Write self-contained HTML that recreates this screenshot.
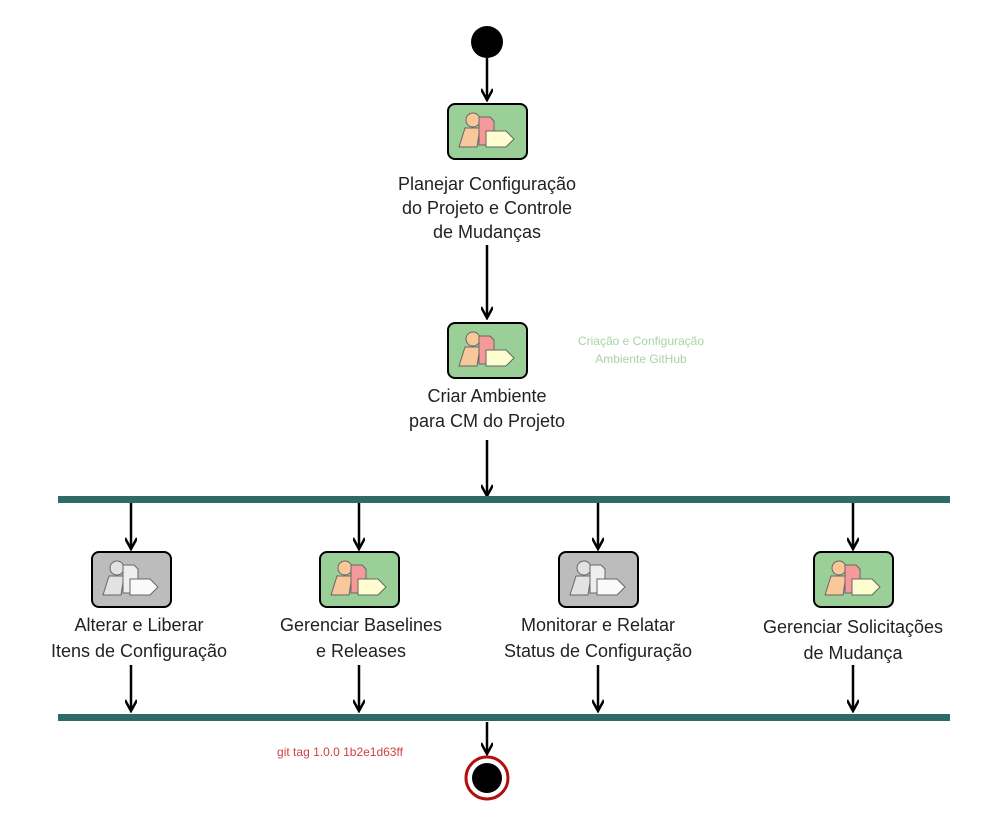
<!DOCTYPE html>
<html><head><meta charset="utf-8"><style>
html,body{margin:0;padding:0;background:#fff}
svg text{font-family:"Liberation Sans",sans-serif}
</style></head><body>
<svg width="1000" height="829" viewBox="0 0 1000 829" xmlns="http://www.w3.org/2000/svg">
<defs>
<marker id="ah" markerWidth="14" markerHeight="12" refX="12" refY="6" orient="auto" markerUnits="userSpaceOnUse">
<path d="M1,0 L12,6 L1,12" fill="none" stroke="#000" stroke-width="2.5"/>
</marker>
<g id="iconG">
<rect x="1" y="1" width="79" height="55" rx="7" fill="#9bcf98" stroke="#000" stroke-width="2"/>
<path d="M12,44 L18,25 L33,25 L30,44 Z" fill="#f9c89a" stroke="#666" stroke-width="1"/>
<circle cx="26" cy="17" r="7" fill="#f9c89a" stroke="#666" stroke-width="1"/>
<path d="M32,14 L43,14 L47,18 L47,42 L32,42 Z" fill="#f59a9a" stroke="#666" stroke-width="1"/>
<path d="M39,28 L59,28 L67,36 L59,44 L39,44 Z" fill="#fdfdd0" stroke="#666" stroke-width="1"/>
</g>
<g id="iconW">
<rect x="1" y="1" width="79" height="55" rx="7" fill="#bcbcbc" stroke="#000" stroke-width="2"/>
<path d="M12,44 L18,25 L33,25 L30,44 Z" fill="#e2e2e2" stroke="#666" stroke-width="1"/>
<circle cx="26" cy="17" r="7" fill="#e2e2e2" stroke="#666" stroke-width="1"/>
<path d="M32,14 L43,14 L47,18 L47,42 L32,42 Z" fill="#eeeeee" stroke="#666" stroke-width="1"/>
<path d="M39,28 L59,28 L67,36 L59,44 L39,44 Z" fill="#fafafa" stroke="#666" stroke-width="1"/>
</g>
</defs>
<g stroke="#000" stroke-width="2.5" fill="none" marker-end="url(#ah)">
<line x1="487" y1="58" x2="487" y2="100"/>
<line x1="487" y1="245" x2="487" y2="318"/>
<line x1="487" y1="440" x2="487" y2="496"/>
<line x1="131" y1="503" x2="131" y2="549"/>
<line x1="359" y1="503" x2="359" y2="549"/>
<line x1="598" y1="503" x2="598" y2="549"/>
<line x1="853" y1="503" x2="853" y2="549"/>
<line x1="131" y1="665" x2="131" y2="711"/>
<line x1="359" y1="665" x2="359" y2="711"/>
<line x1="598" y1="665" x2="598" y2="711"/>
<line x1="853" y1="665" x2="853" y2="711"/>
<line x1="487" y1="722" x2="487" y2="754"/>
</g>
<circle cx="487" cy="42" r="16" fill="#000"/>
<rect x="58" y="496" width="892" height="7" fill="#2f6b66"/>
<rect x="58" y="714" width="892" height="7" fill="#2f6b66"/>
<circle cx="487" cy="778" r="21" fill="#fff" stroke="#b01010" stroke-width="3"/>
<circle cx="487" cy="778" r="15" fill="#000"/>
<use href="#iconG" x="447" y="103"/>
<use href="#iconG" x="447" y="322"/>
<use href="#iconW" x="91" y="551"/>
<use href="#iconG" x="319" y="551"/>
<use href="#iconW" x="558" y="551"/>
<use href="#iconG" x="813" y="551"/>
<g font-size="18" fill="#222" text-anchor="middle">
<text x="487" y="190">Planejar Configuração</text>
<text x="487" y="214">do Projeto e Controle</text>
<text x="487" y="238">de Mudanças</text>
<text x="487" y="402">Criar Ambiente</text>
<text x="487" y="427">para CM do Projeto</text>
<text x="139" y="631">Alterar e Liberar</text>
<text x="139" y="657">Itens de Configuração</text>
<text x="361" y="631">Gerenciar Baselines</text>
<text x="361" y="657">e Releases</text>
<text x="598" y="631">Monitorar e Relatar</text>
<text x="598" y="657">Status de Configuração</text>
<text x="853" y="633">Gerenciar Solicitações</text>
<text x="853" y="659">de Mudança</text>
</g>
<g font-size="12" fill="#a8d4a4" text-anchor="middle">
<text x="641" y="345">Criação e Configuração</text>
<text x="641" y="363">Ambiente GitHub</text>
</g>
<text x="340" y="756" font-size="12" fill="#d04040" text-anchor="middle">git tag 1.0.0 1b2e1d63ff</text>
</svg>
</body></html>
